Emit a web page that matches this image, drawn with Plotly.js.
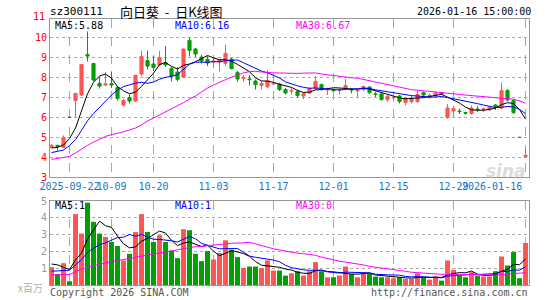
<!DOCTYPE html>
<html><head><meta charset="utf-8">
<script src="https://cdn.plot.ly/plotly-3.0.1.min.js"></script>
<style>html,body{margin:0;padding:0;background:#fff;}</style>
</head><body>
<div id="chart" style="width:545px;height:300px"></div>
<script>
const dates = ['2025-09-17','2025-09-18','2025-09-19','2025-09-22','2025-09-23','2025-09-24','2025-09-25','2025-09-26','2025-09-29','2025-09-30',
'2025-10-09','2025-10-10','2025-10-13','2025-10-14','2025-10-15','2025-10-16','2025-10-17','2025-10-20','2025-10-21','2025-10-22',
'2025-10-23','2025-10-24','2025-10-27','2025-10-28','2025-10-29','2025-10-30','2025-10-31','2025-11-03','2025-11-04','2025-11-05',
'2025-11-06','2025-11-07','2025-11-10','2025-11-11','2025-11-12','2025-11-13','2025-11-14','2025-11-17','2025-11-18','2025-11-19',
'2025-11-20','2025-11-21','2025-11-24','2025-11-25','2025-11-26','2025-11-27','2025-11-28','2025-12-01','2025-12-02','2025-12-03',
'2025-12-04','2025-12-05','2025-12-08','2025-12-09','2025-12-10','2025-12-11','2025-12-12','2025-12-15','2025-12-16','2025-12-17',
'2025-12-18','2025-12-19','2025-12-22','2025-12-23','2025-12-24','2025-12-25','2025-12-26','2025-12-29','2025-12-30','2025-12-31',
'2026-01-05','2026-01-06','2026-01-07','2026-01-08','2026-01-09','2026-01-12','2026-01-13','2026-01-14','2026-01-15','2026-01-16'];

const openP = [4.48,4.58,4.48,5.99,6.82,7.10,9.12,8.67,7.68,7.60,
7.67,7.48,6.60,6.98,6.80,8.15,8.82,8.65,8.60,8.72,
8.42,8.25,8.00,9.83,9.40,9.00,8.88,8.75,8.75,8.68,
8.90,8.22,7.93,7.90,7.80,7.58,7.52,7.65,7.65,7.37,
7.30,7.27,7.05,7.20,7.42,7.62,7.35,7.35,7.35,7.42,
7.38,7.30,7.37,7.50,7.15,7.15,6.87,6.95,7.05,6.72,
6.77,6.77,7.22,6.97,7.08,7.20,5.98,6.30,6.30,6.22,
6.17,6.40,6.37,6.37,6.60,6.45,7.32,6.82,4.98,4.02];
const highP = [4.65,4.62,5.08,5.99,7.18,8.62,10.28,8.72,7.98,8.25,
8.28,7.55,6.90,7.12,8.12,9.32,9.32,9.05,9.30,9.55,
8.50,8.50,9.42,9.98,9.45,9.10,9.05,8.95,8.88,9.60,
8.95,8.30,8.10,8.10,7.88,7.80,8.35,7.75,7.70,7.45,
7.45,7.37,7.23,7.47,8.05,7.67,7.47,7.42,7.42,7.90,
7.45,7.37,7.58,7.53,7.27,7.22,7.10,7.05,7.10,6.98,
7.08,7.32,7.27,7.18,7.28,7.25,6.65,6.55,6.42,6.27,
6.58,6.55,6.48,6.55,6.65,7.72,7.40,6.90,4.98,4.43];
const lowP = [4.45,4.32,4.45,5.98,5.98,7.05,8.78,7.78,7.42,7.55,
7.45,6.82,6.52,6.68,6.75,8.05,8.38,8.30,8.55,8.50,
7.78,7.78,7.95,9.03,9.00,8.68,8.55,8.45,8.28,8.55,
8.38,7.77,7.77,7.57,7.37,7.37,7.45,7.60,7.30,7.13,
7.12,6.98,6.90,7.15,7.35,7.33,7.10,7.25,7.12,7.37,
7.18,7.00,7.30,7.15,7.00,6.82,6.77,6.78,6.68,6.58,
6.68,6.70,6.98,6.92,7.00,7.10,5.90,6.03,6.15,6.12,
6.12,6.25,6.25,6.30,6.35,6.38,6.77,6.15,4.98,3.98];
const closeP = [4.58,4.52,4.98,5.98,7.18,8.62,9.05,7.85,7.55,7.65,
7.60,6.93,6.82,6.80,8.08,9.02,8.55,8.48,8.98,8.60,
8.05,7.88,9.40,9.33,9.15,8.80,8.70,8.80,8.85,9.18,
8.42,7.90,7.97,7.87,7.62,7.67,7.83,7.68,7.37,7.20,
7.33,7.07,7.17,7.43,7.78,7.40,7.38,7.32,7.38,7.57,
7.35,7.33,7.52,7.22,7.13,6.87,7.03,6.98,6.78,6.90,
6.93,7.13,7.10,7.08,7.20,7.15,6.45,6.42,6.27,6.19,
6.45,6.37,6.40,6.50,6.50,7.32,6.85,6.22,4.98,4.08];
const volume = [1.06,0.66,1.30,0.22,4.22,3.06,4.90,3.76,3.06,2.86,
2.56,2.32,1.46,1.86,3.16,4.22,3.16,2.56,2.96,2.56,
2.06,1.60,3.32,3.26,1.86,1.42,2.02,1.52,1.90,2.66,
2.10,1.66,1.02,1.10,1.10,1.00,1.46,0.86,0.86,0.56,
0.70,0.82,0.56,0.82,1.36,0.82,0.46,0.46,0.56,1.10,
0.66,0.46,0.66,0.70,0.50,0.46,0.46,0.40,0.46,0.36,
0.36,0.70,0.46,0.32,0.50,0.26,1.46,0.90,0.56,0.46,
0.76,0.56,0.50,0.50,0.82,1.70,1.16,1.96,0.40,2.50];

// moving-average values before a full window exists
const ma5Head = [4.45,4.48,4.60,4.92];
const ma10Head = [4.22,4.27,4.35,4.57,4.87,5.33,5.81,6.17,6.48];
const ma30Head = [3.88,3.92,3.97,4.03,4.20,4.40,4.58,4.75,4.90,5.03,5.12,5.18,5.26,5.35,5.45,5.60,5.80,5.95,6.10,6.28,6.42,6.55,6.72,6.90,7.05,7.25,7.45,7.60,7.75];
const vma5Head = [1.25,1.20,1.05,0.92];
const vma10Head = [0.82,0.84,0.87,0.88,1.20,1.50,1.95,2.20,2.40];
const vma30Head = [0.60,0.60,0.60,0.62,0.78,0.95,1.05,1.15,1.25,1.32,1.40,1.45,1.52,1.58,1.65,1.70,1.78,1.85,1.90,1.96,2.02,2.10,2.17,2.24,2.28,2.30,2.33,2.36,2.38];

const tickDates = ['2025-09-22','2025-10-09','2025-10-20','2025-11-03','2025-11-17','2025-12-01','2025-12-15','2025-12-29','2026-01-16'];
const tickLabels = ['2025-09-22','10-09','10-20','11-03','11-17','12-01','12-15','12-29','2026-01-16'];
const priceTicks = [3,4,5,6,7,8,9,10];
const volTicks = [1,2,3,4,5];

const title = {code:'sz300111', name:'向日葵\u00a0\u00a0-\u00a0\u00a0日K线图', time:'2026-01-16 15:00:00'};
const maLabels = ['MA5:5.88','MA10:6.16','MA30:6.67'];
const vmaLabels = ['MA5:1','MA10:1','MA30:0'];

function movingAvg(arr, n, head){
  const out = [];
  for(let i=0;i<arr.length;i++){
    if(i < n-1){ out.push(head[i]); continue; }
    let s=0; for(let k=i-n+1;k<=i;k++) s+=arr[k];
    out.push(s/n);
  }
  return out;
}

const RED='#ff5555', GREEN='#00a000';
const MONO='DejaVu Sans Mono, Liberation Mono, monospace';
const volColors = closeP.map((c,i)=> c>openP[i] ? RED : GREEN);

const traces = [
  {type:'candlestick', x:dates, open:openP, high:highP, low:lowP, close:closeP, xaxis:'x', yaxis:'y',
   increasing:{line:{color:RED,width:1}, fillcolor:RED},
   decreasing:{line:{color:GREEN,width:1}, fillcolor:GREEN},
   whiskerwidth:0, hoverinfo:'skip', showlegend:false},
  {type:'scatter', mode:'lines', x:dates, y:movingAvg(closeP,5,ma5Head), line:{color:'#000000',width:1}, xaxis:'x', yaxis:'y', showlegend:false, hoverinfo:'skip'},
  {type:'scatter', mode:'lines', x:dates, y:movingAvg(closeP,10,ma10Head), line:{color:'#0000ff',width:1}, xaxis:'x', yaxis:'y', showlegend:false, hoverinfo:'skip'},
  {type:'scatter', mode:'lines', x:dates, y:movingAvg(closeP,30,ma30Head), line:{color:'#ff00ff',width:1}, xaxis:'x', yaxis:'y', showlegend:false, hoverinfo:'skip'},
  {type:'bar', x:dates, y:volume, marker:{color:volColors, line:{width:0}}, xaxis:'x2', yaxis:'y2', showlegend:false, hoverinfo:'skip'},
  {type:'scatter', mode:'lines', x:dates, y:movingAvg(volume,5,vma5Head), line:{color:'#000000',width:1}, xaxis:'x2', yaxis:'y2', showlegend:false, hoverinfo:'skip'},
  {type:'scatter', mode:'lines', x:dates, y:movingAvg(volume,10,vma10Head), line:{color:'#0000ff',width:1}, xaxis:'x2', yaxis:'y2', showlegend:false, hoverinfo:'skip'},
  {type:'scatter', mode:'lines', x:dates, y:movingAvg(volume,30,vma30Head), line:{color:'#ff00ff',width:1}, xaxis:'x2', yaxis:'y2', showlegend:false, hoverinfo:'skip'}
];

// geometry (pixels)
const W=545, H=300, L=50, R=16, T=19, B=15;
const PW=W-L-R, PH=H-T-B;
const px2x = px => (px-L)/PW;
const py2y = py => (H-B-py)/PH;

const xr = [-0.25, 79.58];
const gridC = '#a8a8a8', boxC = '#999999';
// last tick label is drawn shifted left (as in the original), so leave its tick text empty
const shownTickText = tickLabels.map((t,i)=> i===tickLabels.length-1 ? '' : t);
const xCommon = {type:'category', range:xr, tickvals:tickDates, ticktext:shownTickText, tickangle:0,
  showgrid:true, gridcolor:gridC, griddash:'dash', gridwidth:1, showline:true, mirror:true,
  linecolor:boxC, linewidth:1, ticks:'', zeroline:false, fixedrange:true,
  tickfont:{family:MONO, size:10, color:'#1874cd'}};

const ann = [];
function txt(t, xpx, ypx, color, anchor, size, family){
  const a = {text:t, xref:'paper', yref:'paper', x:px2x(xpx), y:py2y(ypx), xanchor:anchor||'left', yanchor:'middle',
    showarrow:false, font:{family:family||MONO, size:size||10, color:color||'#000'}, borderpad:0};
  ann.push(a); return a;
}
txt(title.code, 49, 12, '#000', 'left', 11);
txt(title.name, 119, 12, '#000', 'left', 13, 'Noto Sans CJK SC');
txt(title.time, 532, 12, '#000', 'right', 10);
txt('11', 46, 17, '#ff0000', 'right', 10);
txt(maLabels[0], 54, 25, '#000000');
txt(maLabels[1], 174, 25, '#0000ff');
txt(maLabels[2], 295, 25, '#ff00ff');
txt(vmaLabels[0], 54, 206, '#000000');
txt(vmaLabels[1], 174, 206, '#0000ff');
txt(vmaLabels[2], 295, 206, '#ff00ff');
txt(tickLabels[tickLabels.length-1], 523, 186, '#1874cd', 'right');
txt('x百万', 44, 287, '#b0b0b0', 'right', 10, 'Noto Sans CJK SC');
txt('Copyright 2026 SINA.COM', 49, 292, '#555555');
txt('http://finance.sina.com.cn', 529, 292, '#555555', 'right');
const wm = txt('sina', 527, 171, '#dcdcdc', 'right', 17, 'DejaVu Sans');
wm.font.style = 'italic'; wm.font.weight = 'bold';

const layout = {
  width:W, height:H, margin:{l:L,r:R,t:T,b:B,pad:0},
  paper_bgcolor:'#ffffff', plot_bgcolor:'#ffffff', showlegend:false, boxgap:0.25,
  bargap:0.17, hovermode:false,
  xaxis: Object.assign({}, xCommon, {anchor:'y', rangeslider:{visible:false}, showticklabels:true}),
  xaxis2: Object.assign({}, xCommon, {anchor:'y2', matches:'x', showticklabels:false}),
  yaxis: {domain:[py2y(177),1], range:[3,10.9], tickvals:priceTicks, showgrid:true, gridcolor:gridC, griddash:'dot',
    showline:true, mirror:true, linecolor:boxC, linewidth:1, ticks:'', zeroline:false, fixedrange:true,
    tickfont:{family:MONO, size:10, color:'#ff0000'}},
  yaxis2: {domain:[0,py2y(201)], range:[0,5], tickvals:volTicks, showgrid:true, gridcolor:gridC, griddash:'dot',
    showline:true, mirror:true, linecolor:boxC, linewidth:1, ticks:'', zeroline:false, fixedrange:true,
    tickfont:{family:MONO, size:10, color:'#999999'}},
  annotations: ann
};

Plotly.newPlot('chart', traces, layout, {staticPlot:true, displayModeBar:false});
</script>
</body></html>
